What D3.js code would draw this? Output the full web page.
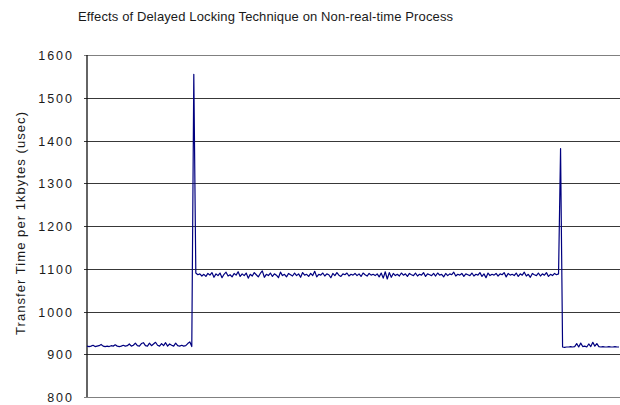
<!DOCTYPE html>
<html>
<head>
<meta charset="utf-8">
<script src="https://cdn.jsdelivr.net/npm/d3@7/dist/d3.min.js"></script>
<style>
  html, body { margin: 0; padding: 0; background: #fff; }
  svg { display: block; }
  text { font-family: "Liberation Sans", Arial, sans-serif; fill: #1a1a1a; }
</style>
</head>
<body>
<div id="chart"></div>
<script>
// Transfer time per 1 kbyte, sampled over the run (usec)
const baselineBefore = [
  919, 918, 919, 921, 918, 919, 920, 923, 919, 918,
  919, 918, 920, 919, 922, 919, 918, 919, 921, 919,
  920, 924, 919, 921, 926, 920, 919, 925, 927, 920,
  919, 926, 920, 924, 928, 921, 919, 925, 920, 927,
  919, 924, 921, 919, 926, 920, 919, 921, 919, 920,
  925, 929, 918
];
const firstSpike = [1555];
const lockedPhase = [
  1090, 1086, 1088, 1083, 1087, 1082, 1089, 1085, 1091, 1080,
  1088, 1084, 1090, 1079, 1087, 1092, 1083, 1086, 1081, 1089,
  1085, 1093, 1082, 1088, 1084, 1090, 1078, 1087, 1083, 1091,
  1086, 1081, 1089, 1095, 1080, 1087, 1084, 1090, 1082, 1088,
  1085, 1079, 1092, 1084, 1087, 1081, 1089, 1086, 1083, 1090,
  1084, 1088, 1080, 1091, 1085, 1087, 1082, 1089, 1084, 1094,
  1081, 1087, 1085, 1090, 1083, 1088, 1086, 1079, 1089, 1084,
  1091, 1085, 1082, 1088, 1086, 1090, 1083, 1087, 1085, 1089,
  1084, 1088, 1082, 1090, 1086, 1083, 1089, 1085, 1087, 1084,
  1088, 1081, 1090, 1078, 1093, 1076, 1091, 1080, 1089, 1084,
  1087, 1083, 1090, 1085, 1088, 1082, 1089, 1086, 1084, 1090,
  1083, 1087, 1085, 1091, 1082, 1088, 1086, 1084, 1089, 1083,
  1090, 1085, 1087, 1081, 1089, 1084, 1088, 1086, 1092, 1083,
  1087, 1085, 1089, 1082, 1088, 1086, 1084, 1090, 1083, 1087,
  1085, 1091, 1082, 1088, 1079, 1090, 1084, 1087, 1085, 1089,
  1083, 1088, 1086, 1091, 1081, 1089, 1085, 1087, 1084, 1090,
  1082, 1088, 1085, 1092, 1083, 1087, 1080, 1089, 1086, 1084,
  1090, 1083, 1088, 1085, 1091, 1082, 1087, 1084, 1089, 1086,
  1088
];
const secondSpike = [1381];
const baselineAfter = [
  917, 916, 917, 917, 918, 917,
  918, 925, 917, 926, 918, 919, 917, 924, 918, 928, 919, 925, 918,
  917, 918, 917, 917, 918, 917, 917, 918, 917, 917
];
const yTicks = [800, 900, 1000, 1100, 1200, 1300, 1400, 1500, 1600];

const chartTitle = "Effects of Delayed Locking Technique on Non-real-time Process";
const yTitle = "Transfer Time per 1kbytes (usec)";

const series = [].concat(baselineBefore, firstSpike, lockedPhase, secondSpike, baselineAfter);

const W = 620, H = 405;
const plotLeft = 87, plotRight = 619, plotTop = 55, plotBottom = 397;

const svg = d3.select("#chart").append("svg")
  .attr("width", W).attr("height", H);

const x = d3.scaleLinear().domain([0, series.length - 1]).range([plotLeft, plotRight]);
const y = d3.scaleLinear().domain([800, 1600]).range([plotBottom, plotTop]);

// Horizontal gridlines with short outward ticks
const yAxis = d3.axisLeft(y)
  .tickValues(yTicks)
  .tickSizeInner(-(W - plotLeft))
  .tickSizeOuter(0)
  .tickFormat(d3.format("d"));

const gAxis = svg.append("g")
  .attr("transform", `translate(${plotLeft},0)`)
  .call(yAxis);

gAxis.select(".domain").remove();
gAxis.selectAll(".tick line")
  .attr("x1", -3)
  .attr("stroke", d => (d === 800 || d === 1600) ? "#808080" : "#383838")
  .attr("shape-rendering", "crispEdges");
gAxis.selectAll(".tick text")
  .attr("x", -13)
  .attr("dy", "0.36em")
  .style("font-size", "12.5px")
  .style("letter-spacing", "2px")
  .style("font-family", "\"Liberation Sans\", Arial, sans-serif")
  .attr("fill", "#1a1a1a");

// Left axis line
svg.append("line")
  .attr("x1", plotLeft).attr("x2", plotLeft)
  .attr("y1", plotTop).attr("y2", plotBottom)
  .attr("stroke", "#111")
  .attr("stroke-width", 1.3);

// Data line
const line = d3.line()
  .x((d, i) => x(i))
  .y(d => y(d));

svg.append("path")
  .datum(series)
  .attr("d", line)
  .attr("fill", "none")
  .attr("stroke", "#00007f")
  .attr("stroke-width", 1.2)
  .attr("stroke-linejoin", "round");

// Titles
svg.append("text")
  .attr("x", 78).attr("y", 21)
  .attr("textLength", 375)
  .attr("lengthAdjust", "spacing")
  .style("font-size", "13px")
  .text(chartTitle);

svg.append("text")
  .attr("transform", "translate(25,223.5) rotate(-90)")
  .attr("text-anchor", "middle")
  .attr("textLength", 223)
  .attr("lengthAdjust", "spacing")
  .style("font-size", "13px")
  .text(yTitle);
</script>
</body>
</html>
